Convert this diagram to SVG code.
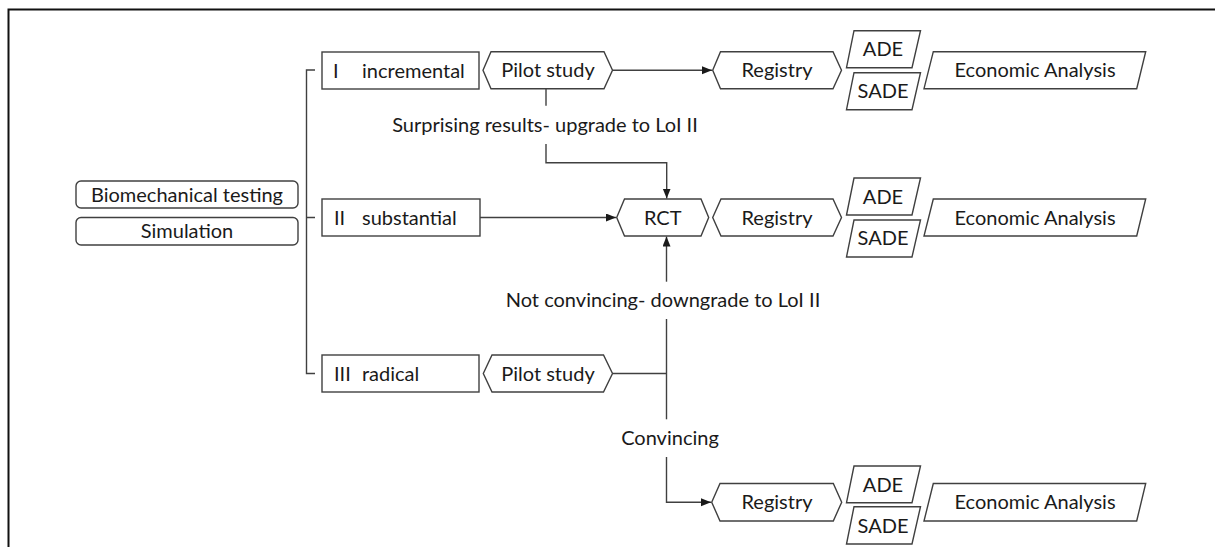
<svg xmlns="http://www.w3.org/2000/svg" width="1215" height="547" viewBox="0 0 1215 547">
<defs>
<style>
.b{fill:#fff;stroke:#404040;stroke-width:1.4}
.c{fill:none;stroke:#404040;stroke-width:1.4}
text{font-family:Lato,"Liberation Sans",sans-serif;font-size:20px;fill:#1a1a1a}
.m{text-anchor:middle}
</style>
<marker id="ah" markerUnits="userSpaceOnUse" markerWidth="11" markerHeight="9" refX="10" refY="4" orient="auto">
<path d="M0,0 L10,4 L0,8 z" fill="#1a1a1a"/>
</marker>
</defs>
<rect width="1215" height="547" fill="#fff"/>
<path d="M8.5,547 V9.5 H1215" fill="none" stroke="#111" stroke-width="2"/>

<g id="connectors">
<path class="c" d="M315,70 H306.5 V373.5 H315 M306.5,217.5 H315"/>
<path class="c" d="M612.5,70.3 H712" marker-end="url(#ah)"/>
<path class="c" d="M546,88.7 V105.7"/>
<path class="c" d="M546,144 V162.7 H666.7 V198.5" marker-end="url(#ah)"/>
<path class="c" d="M480,217.5 H616" marker-end="url(#ah)"/>
<path class="c" d="M612.5,373.5 H666.5"/>
<path class="c" d="M666.5,281.7 V236.5" marker-end="url(#ah)"/>
<path class="c" d="M666.5,319 V419.3"/>
<path class="c" d="M666.5,457 V502.2 H711" marker-end="url(#ah)"/>
<text class="m" x="545" y="131.7">Surprising results- upgrade to LoI II</text>
<text class="m" x="663" y="306.7">Not convincing- downgrade to LoI II</text>
<text class="m" x="670" y="445">Convincing</text>
</g>

<g id="biomech"><rect class="b" x="76" y="181" width="222" height="27" rx="5"/><text class="m" x="187" y="201.5">Biomechanical testing</text></g>
<g id="simulation"><rect class="b" x="76" y="217.5" width="222" height="27.5" rx="5"/><text class="m" x="187" y="238.3">Simulation</text></g>

<g id="incremental"><rect class="b" x="322" y="52" width="157" height="37"/><text x="333" y="77.5">I</text><text x="362" y="77.5">incremental</text></g>
<g id="substantial"><rect class="b" x="322" y="199" width="158" height="37"/><text x="334" y="224.5">II</text><text x="362" y="224.5">substantial</text></g>
<g id="radical"><rect class="b" x="322" y="355" width="157" height="37"/><text x="334" y="380.7">III</text><text x="362" y="380.7">radical</text></g>

<g id="pilot1"><path class="b" d="M483,70.3 L491,51.7 H604 L612.5,70.3 L604,88.7 H491 Z"/><text class="m" x="548" y="77.3">Pilot study</text></g>
<g id="registry1"><path class="b" d="M712.7,70.3 L720.5,51.7 H833 L841.5,70.3 L833,88.7 H720.5 Z"/><text class="m" x="777" y="77.3">Registry</text></g>
<g id="ade1"><path class="b" d="M854,30.7 H920.5 L912,67.7 H846.5 Z"/><text class="m" x="883" y="56">ADE</text></g>
<g id="sade1"><path class="b" d="M854,72.7 H920.5 L912,109.7 H846.5 Z"/><text class="m" x="883" y="98">SADE</text></g>
<g id="econ1"><path class="b" d="M933.3,51.7 H1145.7 L1136.7,88.7 H924 Z"/><text class="m" x="1035" y="77.3">Economic Analysis</text></g>

<g id="rct"><path class="b" d="M616.7,217.5 L624.5,199 H701 L708.7,217.5 L701,236 H624.5 Z"/><text class="m" x="662.7" y="224.5">RCT</text></g>
<g id="registry2"><path class="b" d="M712.7,217.5 L721,199 H833 L841.5,217.5 L833,236 H721 Z"/><text class="m" x="777" y="224.5">Registry</text></g>
<g id="ade2"><path class="b" d="M854,178 H920.5 L912,215 H846.5 Z"/><text class="m" x="883" y="204">ADE</text></g>
<g id="sade2"><path class="b" d="M854,220 H920.5 L912,257 H846.5 Z"/><text class="m" x="883" y="245">SADE</text></g>
<g id="econ2"><path class="b" d="M933.3,199 H1145.7 L1136.7,236 H924 Z"/><text class="m" x="1035" y="224.5">Economic Analysis</text></g>

<g id="pilot3"><path class="b" d="M483.3,373.5 L492,355 H603.5 L612.5,373.5 L603.5,392 H492 Z"/><text class="m" x="548" y="380.7">Pilot study</text></g>

<g id="registry3"><path class="b" d="M711.7,502.2 L720,483.5 H833.3 L841.7,502.2 L833.3,521 H720 Z"/><text class="m" x="777" y="509.3">Registry</text></g>
<g id="ade3"><path class="b" d="M854,466 H920.5 L912,502.7 H846.5 Z"/><text class="m" x="883" y="492">ADE</text></g>
<g id="sade3"><path class="b" d="M854,506.7 H920.5 L912,544 H846.5 Z"/><text class="m" x="883" y="532.5">SADE</text></g>
<g id="econ3"><path class="b" d="M933.3,483.5 H1145.7 L1136.7,521 H924 Z"/><text class="m" x="1035" y="509.3">Economic Analysis</text></g>
</svg>
